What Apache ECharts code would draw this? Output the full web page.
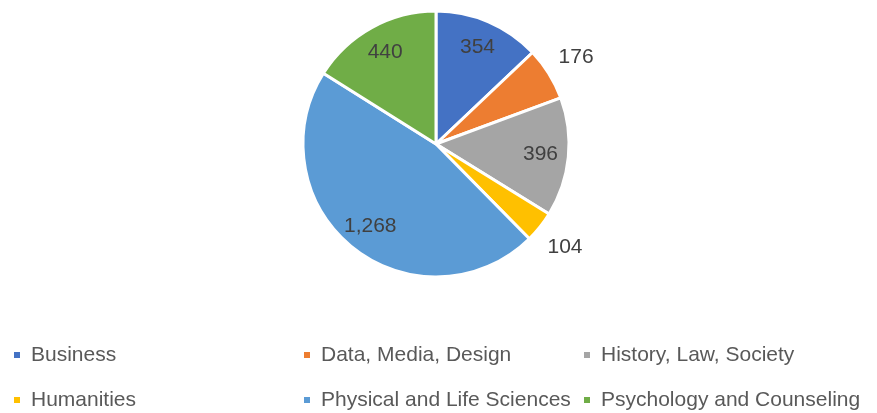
<!DOCTYPE html>
<html>
<head>
<meta charset="utf-8">
<style>
  html, body { margin: 0; padding: 0; background: #fff; }
  #chart { width: 877px; height: 413px; }
</style>
<script src="https://cdn.jsdelivr.net/npm/echarts@6/dist/echarts.min.js"></script>
</head>
<body>
<div id="chart"></div>
<script>
// 数据
var categories = [
  "Business",
  "Data, Media, Design",
  "History, Law, Society",
  "Humanities",
  "Physical and Life Sciences",
  "Psychology and Counseling"
];
var values = [354, 176, 396, 104, 1268, 440];
var colors = ["#4472C4", "#ED7D31", "#A5A5A5", "#FFC000", "#5B9BD5", "#70AD47"];

var total = values.reduce(function (a, b) { return a + b; }, 0);
var center = [436, 144];
var fmt = function (p) { return p.value.toLocaleString("en-US"); };

// small slices get their label outside the pie
var isSmall = function (v) { return v / total < 0.08; };

var pieData = categories.map(function (name, i) {
  return { name: name, value: values[i], itemStyle: { color: colors[i] } };
});
var innerLabels = categories.map(function (name, i) {
  return { name: name, value: values[i], label: { show: !isSmall(values[i]) } };
});
var outerLabels = categories.map(function (name, i) {
  return { name: name, value: values[i], label: { show: isSmall(values[i]) } };
});

var labelStyle = {
  position: "inside",
  formatter: fmt,
  color: "#404040",
  fontSize: 21,
  fontFamily: "Liberation Sans"
};
var ghost = {
  type: "pie",
  center: center,
  startAngle: 90,
  silent: true,
  legendHoverLink: false,
  itemStyle: { color: "rgba(0,0,0,0)", borderWidth: 0 },
  labelLine: { show: false },
  emphasis: { disabled: true },
  tooltip: { show: false }
};

var legendText = { color: "#595959", fontSize: 21, fontFamily: "Liberation Sans", lineHeight: 22, padding: [0, 0, 0, 5] };
var makeLegend = function (left, names) {
  return {
    orient: "vertical",
    left: left,
    top: 344,
    height: 90,
    padding: 0,
    icon: "rect",
    itemWidth: 8,
    itemHeight: 8,
    itemGap: 23,
    data: names,
    textStyle: legendText
  };
};

var myChart = echarts.init(document.getElementById("chart"), null, { renderer: "canvas" });
myChart.setOption({
  animation: false,
  legend: [
    makeLegend(12, [categories[0], categories[3]]),
    makeLegend(302, [categories[1], categories[4]]),
    makeLegend(582, [categories[2], categories[5]])
  ],
  series: [
    {
      name: "main",
      type: "pie",
      radius: 133,
      center: center,
      startAngle: 90,
      clockwise: true,
      data: pieData,
      label: { show: false },
      labelLine: { show: false },
      itemStyle: { borderColor: "#fff", borderWidth: 3 },
      emphasis: { scale: false }
    },
    Object.assign({}, ghost, {
      name: "inner",
      radius: [71, 133],
      data: innerLabels,
      label: labelStyle
    }),
    Object.assign({}, ghost, {
      name: "outer",
      radius: [130, 194],
      data: outerLabels,
      label: labelStyle
    })
  ]
});
</script>
</body>
</html>
